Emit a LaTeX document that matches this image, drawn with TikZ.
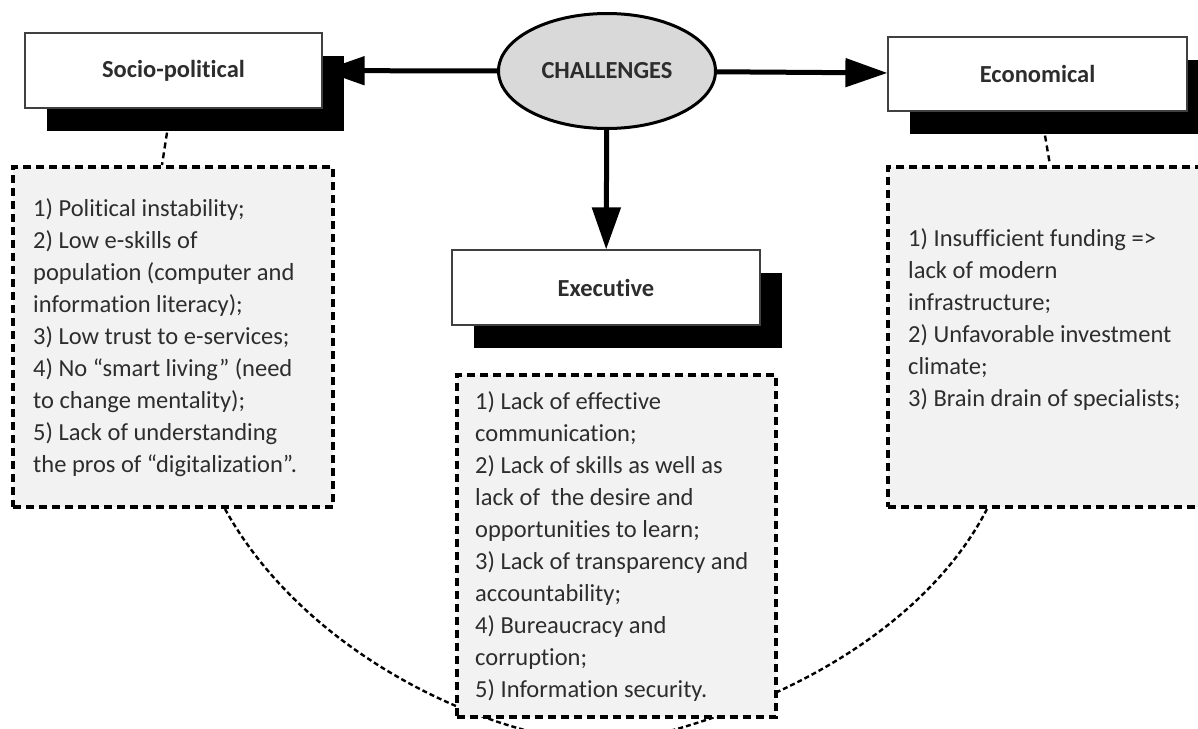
\documentclass[tikz,border=0pt]{standalone}
\usepackage{fontspec}
\setmainfont{Carlito}[Ligatures={NoCommon,NoRequired,NoContextual}]
\usetikzlibrary{arrows.meta,shapes.geometric,shadows}
\definecolor{ellfill}{RGB}{217,217,217}
\definecolor{listfill}{RGB}{242,242,242}
\definecolor{txt}{RGB}{45,45,45}
\pgfdeclarelayer{background}
\pgfsetlayers{background,main}
\begin{document}
\begin{tikzpicture}[x=1pt,y=-1pt,
  every node/.style={font=\fontsize{24.5pt}{32pt}\selectfont, text=txt, inner sep=0pt},
  header/.style={draw=black!75, line width=1.2pt, fill=white,
    font=\fontsize{24.5pt}{32pt}\selectfont\bfseries,
    drop shadow={shadow xshift=22pt,shadow yshift=-23pt,opacity=1,fill=black,draw=none}},
  listbox/.style={draw=black, line width=4pt, dash pattern=on 8pt off 5pt, fill=listfill},
  listtext/.style={align=left, anchor=west},
  bigarrow/.style={line width=5pt, -{Triangle[length=42pt,width=28pt]}},
  link/.style={line width=2.4pt, dash pattern=on 5pt off 3pt},
  stub/.style={line width=2.4pt, dash pattern=on 6pt off 4pt}
]
\useasboundingbox (0,0) rectangle (1198,728);
\clip (0,0) rectangle (1198,728);

% list boxes
\node[listbox, minimum width=320pt, minimum height=340pt] (slist) at (173,337) {};
\node[listbox, minimum width=319pt, minimum height=342pt] (xlist) at (616.5,546) {};
\node[listbox, minimum width=332pt, minimum height=340pt] (elist) at (1054,337) {};

% header boxes
\node[header, minimum width=297pt, minimum height=75pt] (socio) at (173.5,70.5) {Socio-political};
\node[header, minimum width=299pt, minimum height=74pt] (econ) at (1037.5,74) {Economical};
\node[header, minimum width=308pt, minimum height=75pt] (exec) at (606,287.5) {Executive};

% central ellipse
\node[ellipse, draw=black, line width=3pt, fill=ellfill, minimum width=217pt, minimum height=115pt,
      font=\fontsize{24.5pt}{32pt}\selectfont\bfseries] (chal) at (607,71) {CHALLENGES};

% list texts
\node[listtext] (stext) at (33,338) {1) Political instability;\\2) Low e-skills of\\population (computer and\\information literacy);\\3) Low trust to e-services;\\4) No “smart living” (need\\to change mentality);\\5) Lack of understanding\\the pros of “digitalization”.};
\node[listtext] (xtext) at (475,547) {1) Lack of effective\\communication;\\2) Lack of skills as well as\\lack of \ the desire and\\opportunities to learn;\\3) Lack of transparency and\\accountability;\\4) Bureaucracy and\\corruption;\\5) Information security.};
\node[listtext] (etext) at (908,320) {1) Insufficient funding =>\\lack of modern\\infrastructure;\\2) Unfavorable investment\\climate;\\3) Brain drain of specialists;};

% connector coordinates
\coordinate (sshadow) at ([shift={(-6.5,24)}]socio.south);
\coordinate (eshadow) at ([shift={(7.5,24)}]econ.south);
\coordinate (stop) at ([shift={(-11,0)}]slist.north);
\coordinate (etop) at ([shift={(-4,0)}]elist.north);
\coordinate (sbot) at ([shift={(52,0)}]slist.south);
\coordinate (ebot) at ([shift={(-67,0)}]elist.south);
\coordinate (meet) at (610,745);

\begin{pgfonlayer}{background}
  \begin{scope}
  \clip (0,0) rectangle (1198,728);
  \draw[bigarrow] (chal) -- (socio);
  \draw[bigarrow] (chal) -- (econ);
  \draw[bigarrow] (chal) -- (exec);
  \draw[stub] (sshadow) -- (stop);
  \draw[stub] (eshadow) -- (etop);
  \draw[link] (sbot) .. controls (300,645) and (470,735) .. (meet);
  \draw[link] (ebot) .. controls (930,620) and (790,710) .. (meet);
  \end{scope}
\end{pgfonlayer}
\end{tikzpicture}
\end{document}
